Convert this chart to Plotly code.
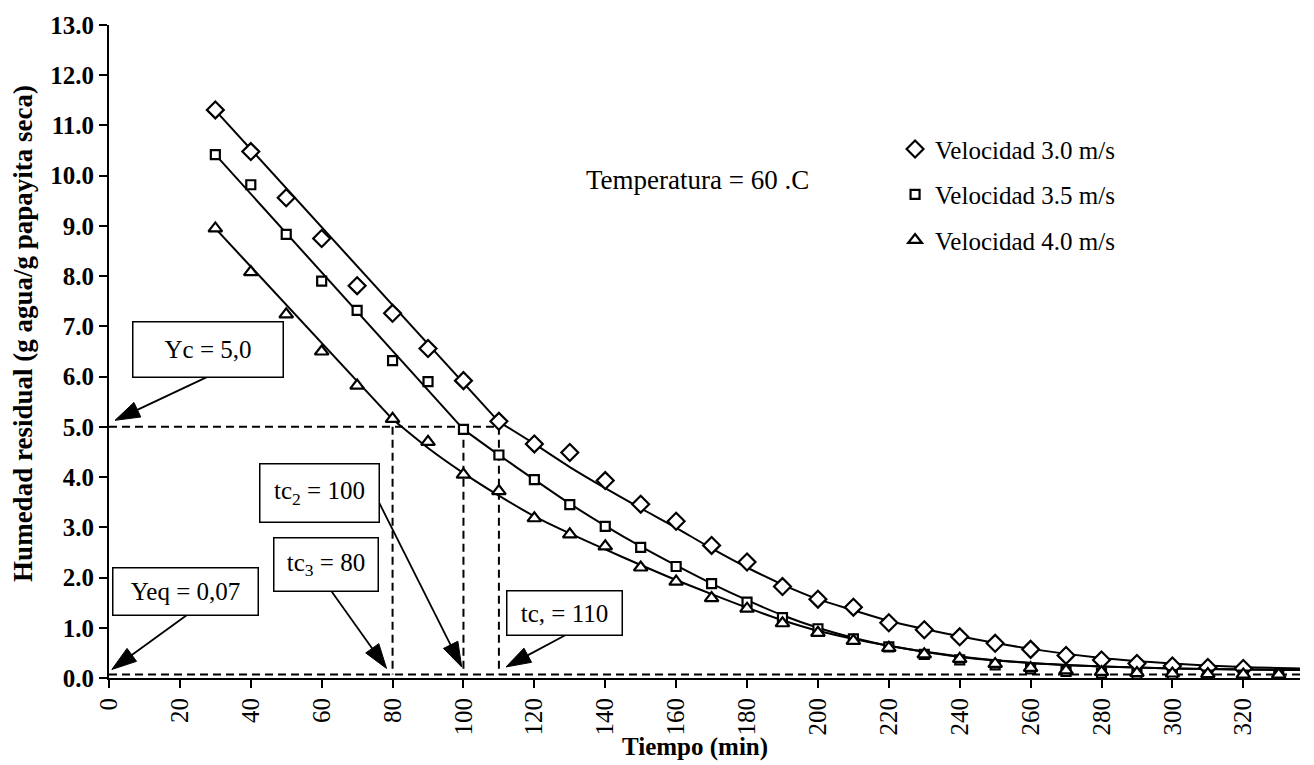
import plotly.graph_objects as go

# ---------------- data ----------------
t_min = [30, 40, 50, 60, 70, 80, 90, 100, 110, 120, 130, 140, 150, 160, 170, 180,
         190, 200, 210, 220, 230, 240, 250, 260, 270, 280, 290, 300, 310, 320, 330]

y_v30 = [11.31, 10.48, 9.56, 8.75, 7.81, 7.26, 6.56, 5.92, 5.11, 4.66, 4.49, 3.93,
         3.46, 3.12, 2.64, 2.31, 1.82, 1.57, 1.41, 1.10, 0.96, 0.82, 0.69, 0.57,
         0.45, 0.36, 0.29, 0.24, 0.21, 0.19]
y_v35 = [10.42, 9.82, 8.83, 7.90, 7.32, 6.32, 5.90, 4.95, 4.44, 3.95, 3.45, 3.02,
         2.60, 2.22, 1.88, 1.51, 1.20, 0.98, 0.78, 0.62, 0.47, 0.36, 0.26, 0.18,
         0.13, 0.10, 0.08, 0.07, 0.06, 0.06, 0.05]
y_v40 = [8.95, 8.08, 7.24, 6.50, 5.82, 5.16, 4.70, 4.05, 3.72, 3.18, 2.86, 2.62,
         2.20, 1.92, 1.59, 1.38, 1.09, 0.90, 0.74, 0.60, 0.47, 0.38, 0.28, 0.20,
         0.15, 0.12, 0.10, 0.09, 0.08, 0.07, 0.07]

# fitted curves: constant-rate straight segment + falling-rate curve
fit30_lin_t = [30, 110]
fit30_lin_y = [11.30, 5.10]
fit30_cur_t = [110, 120, 130, 140, 150, 160, 170, 180, 190, 200, 210, 220, 240, 260, 280, 300, 320, 336]
fit30_cur_y = [5.10, 4.66, 4.20, 3.78, 3.38, 2.99, 2.58, 2.20, 1.86, 1.57, 1.35, 1.14, 0.83, 0.58, 0.40, 0.29, 0.22, 0.19]

fit35_lin_t = [30, 100]
fit35_lin_y = [10.42, 4.95]
fit35_cur_t = [100, 110, 120, 130, 140, 150, 160, 170, 180, 190, 200, 210, 220, 240, 260, 280, 300, 320, 336]
fit35_cur_y = [4.95, 4.44, 3.95, 3.47, 3.03, 2.62, 2.24, 1.88, 1.55, 1.25, 1.00, 0.80, 0.64, 0.42, 0.30, 0.23, 0.19, 0.17, 0.16]

fit40_lin_t = [30, 80]
fit40_lin_y = [8.95, 5.15]
fit40_cur_t = [80, 90, 100, 110, 120, 130, 140, 150, 160, 170, 180, 190, 200, 220, 240, 260, 280, 300, 320, 336]
fit40_cur_y = [5.15, 4.58, 4.08, 3.63, 3.22, 2.88, 2.56, 2.25, 1.95, 1.67, 1.40, 1.15, 0.94, 0.64, 0.43, 0.30, 0.23, 0.19, 0.17, 0.16]

YC = 5.0
YEQ = 0.07
TC = [110, 100, 80]          # tc1, tc2, tc3
T_END = 336

series_names = ["Velocidad 3.0 m/s", "Velocidad 3.5 m/s", "Velocidad 4.0 m/s"]
x_ticks = list(range(0, 321, 20))
y_ticks = list(range(0, 14))
y_ticktext = ["%.1f" % v for v in y_ticks]

# ---------------- figure ----------------
FONT = "Liberation Serif"
fig = go.Figure()

for lt, ly, ct, cy in [(fit30_lin_t, fit30_lin_y, fit30_cur_t, fit30_cur_y),
                       (fit35_lin_t, fit35_lin_y, fit35_cur_t, fit35_cur_y),
                       (fit40_lin_t, fit40_lin_y, fit40_cur_t, fit40_cur_y)]:
    fig.add_trace(go.Scatter(x=lt, y=ly, mode="lines", line=dict(color="black", width=2),
                             showlegend=False, hoverinfo="skip"))
    fig.add_trace(go.Scatter(x=ct, y=cy, mode="lines",
                             line=dict(color="black", width=2, shape="spline", smoothing=0.8),
                             showlegend=False, hoverinfo="skip"))

# dashed guide lines
dx, dy = [0, TC[0], None, 0, T_END], [YC, YC, None, YEQ, YEQ]
for tc in TC:
    dx += [None, tc, tc]
    dy += [None, YC, YEQ]
fig.add_trace(go.Scatter(x=dx, y=dy, mode="lines",
                         line=dict(color="black", width=2, dash="8px,5px"),
                         showlegend=False, hoverinfo="skip"))

# callout arrows (tail -> tip), in axis units
arrows = [
    (27.6, 5.99, 1.7, 5.13),     # Yc
    (76.0, 3.52, 99.5, 0.22),    # tc2
    (61.4, 1.86, 78.3, 0.19),    # tc3
    (21.9, 1.25, 0.8, 0.17),     # Yeq
    (128.7, 0.85, 112.0, 0.22),  # tc1
]
for ax, ay, x, y in arrows:
    fig.add_trace(go.Scatter(
        x=[ax, x], y=[ay, y], mode="lines+markers", opacity=1,
        line=dict(color="#000000", width=1.8),
        marker=dict(symbol=["circle", "arrow"], size=[0, 26], color="#000000",
                    opacity=1, angleref="previous",
                    line=dict(width=1, color="#000000")),
        showlegend=False, hoverinfo="skip", cliponaxis=False))

symbols = [("diamond", 13), ("square", 9), ("triangle-up", 12)]
for i, (yy, (sym, sz)) in enumerate(zip([y_v30, y_v35, y_v40], symbols)):
    fig.add_trace(go.Scatter(
        x=t_min[:len(yy)], y=yy, mode="markers", name=series_names[i],
        legendgroup=f"g{i}",
        marker=dict(symbol=sym, size=sz, color="white",
                    line=dict(color="black", width=2.2))))

annot_font = dict(family=FONT, size=25, color="black")
annotations = []
# boxes (center x, center y in axis units, width, height px)
boxes = [
    ("Yc = 5,0", 27.8, 6.54, 145, 50),
    ("tc<sub>2</sub> = 100", 59.5, 3.69, 114, 53),
    ("tc<sub>3</sub> = 80", 61.1, 2.25, 99, 48),
    ("Yeq = 0,07", 21.7, 1.72, 140, 42),
    ("tc, = 110", 128.4, 1.29, 110, 39),
]
for txt, bx, by, w, h in boxes:
    annotations.append(dict(x=bx, y=by, xref="x", yref="y", text=txt, showarrow=False,
                            font=annot_font, bordercolor="black", borderwidth=1.5,
                            borderpad=2, bgcolor="white", width=w, height=h,
                            align="center", valign="middle"))
annotations.append(dict(x=0.4945, y=0.763, xref="paper", yref="paper",
                        text="Temperatura = 60 .C", showarrow=False,
                        font=dict(family=FONT, size=27, color="black"),
                        xanchor="center", yanchor="middle"))
# axis titles
annotations.append(dict(x=-0.0722, y=0.527, xref="paper", yref="paper",
                        text="<b>Humedad residual (g agua/g papayita seca)</b>",
                        textangle=-90, showarrow=False,
                        font=dict(family=FONT, size=27, color="black"),
                        xanchor="center", yanchor="middle"))
annotations.append(dict(x=0.492, y=-0.105, xref="paper", yref="paper",
                        text="<b>Tiempo (min)</b>", showarrow=False,
                        font=dict(family=FONT, size=25, color="black"),
                        xanchor="center", yanchor="middle"))

fig.update_layout(
    width=1314, height=765,
    margin=dict(l=109, r=14, t=20, b=87),
    paper_bgcolor="white", plot_bgcolor="white",
    font=dict(family=FONT, size=25, color="black"),
    showlegend=True,
    legend=dict(x=0.66, y=0.845, xanchor="left", yanchor="top",
                font=dict(family=FONT, size=25, color="black"),
                bgcolor="rgba(0,0,0,0)", traceorder="grouped",
                tracegroupgap=10, itemwidth=30),
    annotations=annotations,
)
fig.update_xaxes(range=[0, T_END], tickmode="array", tickvals=x_ticks,
                 ticks="outside", ticklen=8, tickwidth=2, tickcolor="black",
                 showline=True, linewidth=2, linecolor="black",
                 showgrid=False, zeroline=False, tickangle=-90,
                 tickfont=dict(family=FONT, size=25, color="black"))
fig.update_yaxes(range=[0, 13], tickmode="array", tickvals=y_ticks,
                 ticktext=["<b>%s</b>" % s for s in y_ticktext],
                 ticks="outside", ticklen=8, tickwidth=2, tickcolor="black",
                 showline=True, linewidth=2, linecolor="black",
                 showgrid=False, zeroline=False,
                 tickfont=dict(family=FONT, size=25, color="black"))

fig.write_html("out.html", config={"displayModeBar": False})
with open("out.html", "r", encoding="utf-8") as f:
    html = f.read()
html = html.replace("<head>", "<head><style>html,body{margin:0;padding:0;overflow:hidden}</style>", 1)
with open("out.html", "w", encoding="utf-8") as f:
    f.write(html)
